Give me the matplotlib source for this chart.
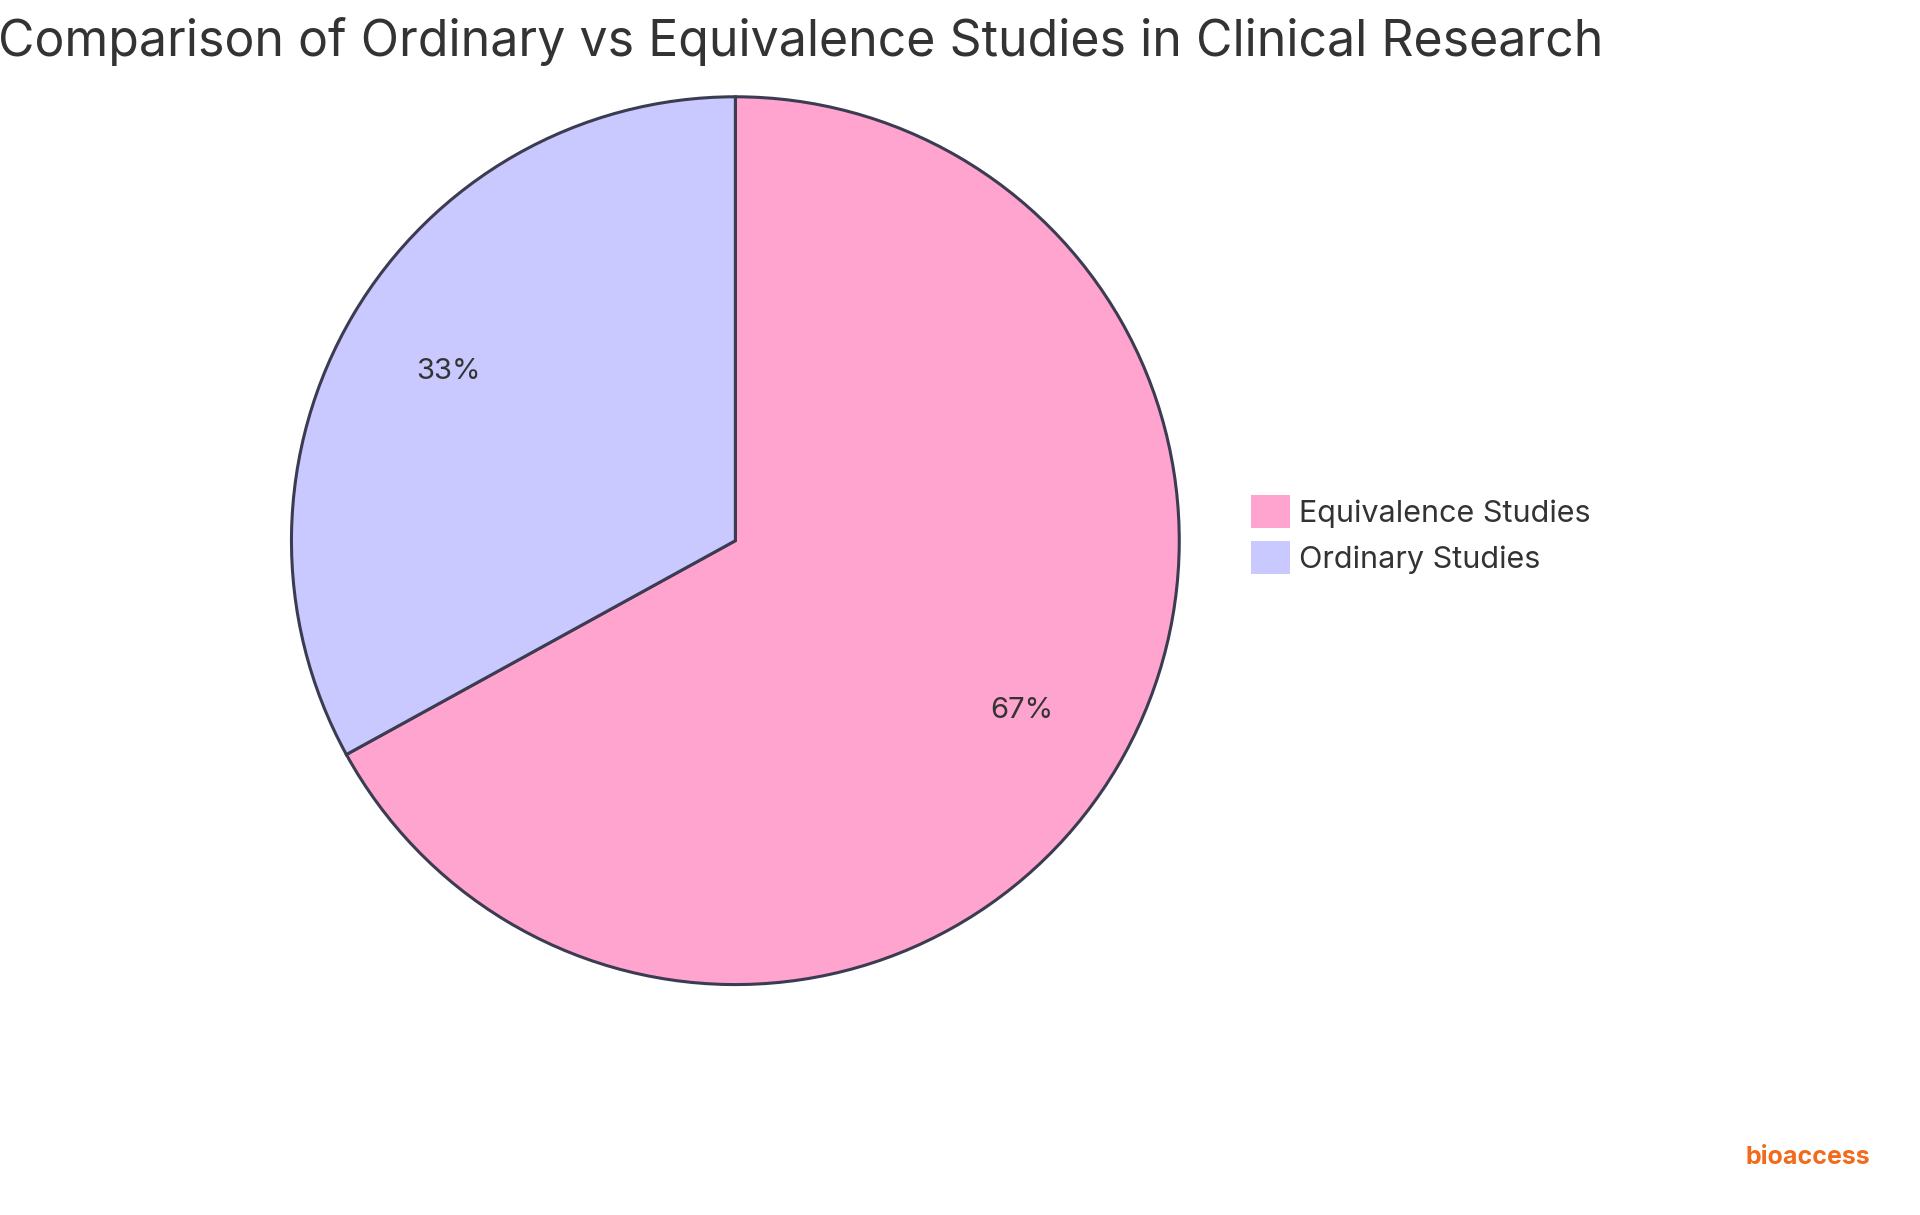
import matplotlib
matplotlib.use("Agg")
from matplotlib import pyplot as plt
from matplotlib.patches import Patch

labels = ["Equivalence Studies", "Ordinary Studies"]
values = [67, 33]
colors = ["#ffa3cf", "#c9c9ff"]
title = "Comparison of Ordinary vs Equivalence Studies in Clinical Research"

plt.rcParams["font.family"] = "Inter"
W, H = 1920, 1215
fig = plt.figure(figsize=(W / 100, H / 100), dpi=100)

# pie axes: centre ~ (0.383, 0.555), radius ~0.37 of height
r = 0.369 * H
cx, cy = 0.383 * W, 0.555 * H
ax = fig.add_axes([(cx - r) / W, (cy - r) / H, 2 * r / W, 2 * r / H])
ax.pie(values, colors=colors, startangle=90, counterclock=False,
       autopct="%1.0f%%", pctdistance=0.75,
       wedgeprops=dict(edgecolor="#3b3b52", linewidth=2.2),
       textprops=dict(fontsize=21, color="#333333"))
ax.set_aspect("equal")
ax.set_xlim(-1.01, 1.01)
ax.set_ylim(-1.01, 1.01)

fig.text(0.417, 0.966, title, ha="center", va="center", fontsize=36, color="#333333")

handles = [Patch(facecolor=c, edgecolor="none") for c in colors]
fig.legend(handles, labels, loc="center left", bbox_to_anchor=(0.637, 0.56),
           frameon=False, fontsize=22, handlelength=1.3, handleheight=1.3,
           handletextpad=0.3, labelspacing=0.4, labelcolor="#333333")

fig.text(0.974, 0.047, "bioaccess", ha="right", va="center", fontsize=18,
         fontweight="bold", color="#f26b1d")

fig.savefig("out.png", dpi=100, facecolor="white")
